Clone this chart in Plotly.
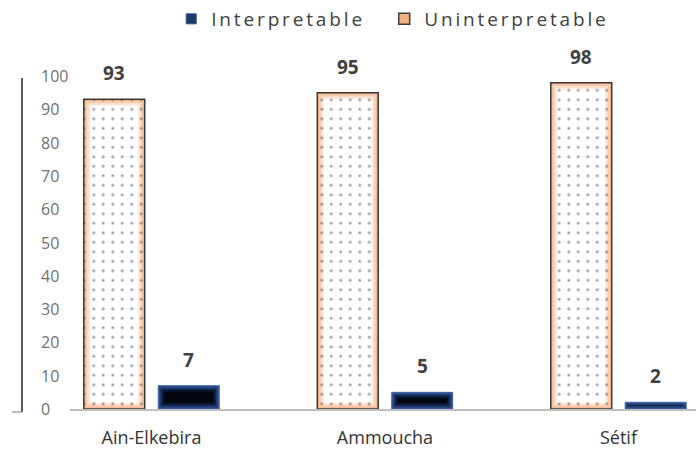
import plotly.graph_objects as go

# Share of readings per site (%)
sites = ["Ain-Elkebira", "Ammoucha", "Sétif"]
uninterpretable = [93, 95, 98]
interpretable = [7, 5, 2]
y_ticks = [0, 10, 20, 30, 40, 50, 60, 70, 80, 90, 100]

FONT = "Open Sans"
NAVY_EDGE = "#2f5597"
PEACH = "#f4b183"

# Geometry of the bar slots (category units) and pixel scales of the plot area
BAR_W = 0.261
UNINT_OFF = -0.290
INTERP_OFF = 0.029
PX_X = 233.5   # pixels per category unit
PX_Y = 3.33    # pixels per percentage point

fig = go.Figure()


def shaded_bar(values, offset, colors, step_px):
    """Stack of progressively inset bars giving a soft edge-to-centre shading."""
    for k, c in enumerate(colors):
        dx = k * step_px / PX_X
        dy = k * step_px / PX_Y
        fig.add_trace(go.Bar(
            x=sites, y=[max(v - 2 * dy, 0) for v in values],
            base=[min(dy, v / 2) for v in values],
            offset=offset + dx, width=BAR_W - 2 * dx,
            marker=dict(color=c, line=dict(width=0)),
            showlegend=False, hoverinfo="skip",
        ))


# Uninterpretable: peach glow fading to white, dotted, dark outline
shaded_bar(uninterpretable, UNINT_OFF,
           ["#f5b78e", "#f8caab", "#fadcc8", "#fdede2", "#ffffff"], 1.7)
fig.add_trace(go.Bar(
    x=sites, y=uninterpretable, name="Uninterpretable", showlegend=False,
    offset=UNINT_OFF, width=BAR_W,
    marker=dict(
        color="rgba(0,0,0,0)",
        line=dict(color="#3a3a3a", width=1.5),
        pattern=dict(shape=".", size=9.5, solidity=0.075,
                     fgcolor="#3c3c3c", fillmode="overlay"),
    ),
))

# Interpretable: blue rim darkening to black in the middle
shaded_bar(interpretable, INTERP_OFF,
           ["#2f5597", "#203c70", "#13254a", "#0a1430", "#03060f"], 1.5)
fig.add_trace(go.Bar(
    x=sites, y=interpretable, name="Interpretable", showlegend=False,
    offset=INTERP_OFF, width=BAR_W,
    marker=dict(color="rgba(0,0,0,0)", line=dict(color="#3a5f9f", width=1)),
))

# Legend keys, one legend box each so both entries sit where wanted
legend_label = '<span style="letter-spacing:2.85px">{}</span>'
fig.add_trace(go.Scatter(
    x=[None], y=[None], mode="markers", name=legend_label.format("Interpretable"),
    legend="legend",
    marker=dict(symbol="square", size=10, color="#203864",
                line=dict(color=NAVY_EDGE, width=1)),
))
fig.add_trace(go.Scatter(
    x=[None], y=[None], mode="markers", name=legend_label.format("Uninterpretable"),
    legend="legend2",
    marker=dict(symbol="square", size=11, color=PEACH,
                line=dict(color="#3a3a3a", width=1.5)),
))

annotations = []
# Value labels above each bar
for s, u, i in zip(sites, uninterpretable, interpretable):
    for val, off in ((u, UNINT_OFF), (i, INTERP_OFF)):
        annotations.append(dict(
            x=s, y=val, xref="x", yref="y",
            xshift=(off + BAR_W / 2) * PX_X, yshift=11,
            text=f"<b>{val}</b>", showarrow=False, yanchor="bottom",
            font=dict(family=FONT, size=19, color="#404040"),
        ))
# Left-aligned value-axis labels
for t in y_ticks:
    annotations.append(dict(
        x=-0.05, y=t, xref="paper", yref="y", text=str(t), showarrow=False,
        xanchor="left", yanchor="middle",
        font=dict(family=FONT, size=16, color="#707070"),
    ))

shapes = [
    # vertical rule beside the value labels
    dict(type="line", xref="paper", yref="paper", x0=-0.0767, x1=-0.0767,
         y0=0.994, y1=-0.009, line=dict(color="#262626", width=1.5)),
    dict(type="line", xref="paper", yref="paper", x0=-0.0927, x1=-0.0767,
         y0=-0.009, y1=-0.009, line=dict(color="#a6a6a6", width=1.5)),
]

legend_common = dict(
    orientation="h", xref="container", yref="container",
    y=1.0, xanchor="left", yanchor="top",
    font=dict(family=FONT, size=19, color="#404040"),
    itemsizing="trace",
)

fig.update_layout(
    width=696, height=450,
    margin=dict(l=70, r=0, t=76, b=41),
    paper_bgcolor="white", plot_bgcolor="white",
    barmode="overlay",
    font=dict(family=FONT, color="#404040"),
    showlegend=True,
    legend=dict(x=0.246, **legend_common),
    legend2=dict(x=0.552, **legend_common),
    annotations=annotations,
    shapes=shapes,
)
fig.update_xaxes(
    range=[-0.349, 2.332], showline=True, linecolor="#bfbfbf", linewidth=1.5,
    showgrid=False, ticks="", ticklabelstandoff=12,
    tickfont=dict(family=FONT, size=18, color="#333333"),
)
fig.update_yaxes(
    range=[0, 100], showgrid=False, zeroline=False, showline=False,
    showticklabels=False, ticks="",
)

fig.write_html("out.html")
